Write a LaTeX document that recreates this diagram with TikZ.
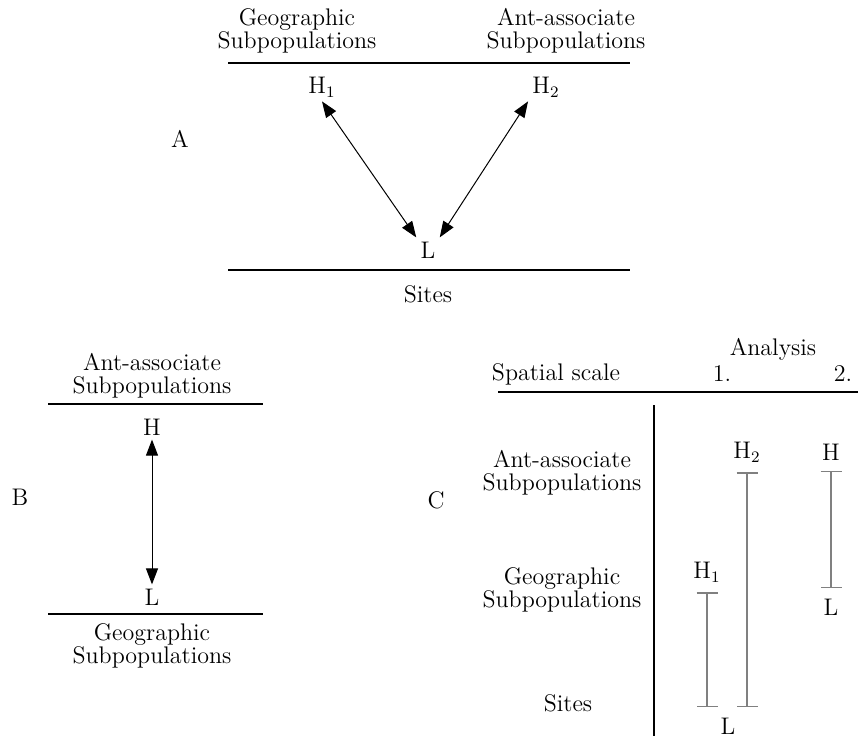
\documentclass[tikz,border=0pt]{standalone}
\usetikzlibrary{arrows.meta}
\begin{document}
\begin{tikzpicture}[x=0.5pt,y=-0.5pt,
    lbl/.style={font=\fontsize{12}{11.5}\selectfont, align=center, inner sep=2pt},
    rule/.style={line width=0.9pt},
    link/.style={{Triangle[length=8pt,width=6pt]}-{Triangle[length=8pt,width=6pt]}, line width=0.5pt},
    span/.style={{Bar[width=10.5pt]}-{Bar[width=10.5pt]}, draw=gray, line width=0.7pt, shorten <=3pt, shorten >=3pt}]
        \useasboundingbox (0,0) rectangle (858,736);

        % A
        \node [lbl] (geoA) at (297,31) {Geographic\\Subpopulations};
        \node [lbl] (antA) at (566,31) {Ant-associate\\Subpopulations};
        \draw [rule] (228,63) -- (630,63);
        \node [lbl] (h1A) at (322,87) {H$_1$};
        \node [lbl] (h2A) at (546,87) {H$_2$};
        \node [lbl] (lA) at (428,250) {L};
        \draw [rule] (228,270) -- (630,270);
        \node [lbl] (sitesA) at (428,294) {Sites};
        \node [lbl] (tagA) at (180,139) {A};

        \draw [link] (h1A.south) -- (lA.north west);
        \draw [link] (h2A.south west) -- (lA.north east);

        % B
        \node [lbl] (antB) at (152,376) {Ant-associate\\Subpopulations};
        \draw [rule] (48,404) -- (263,404);
        \node [lbl] (hB) at (152,427) {H};
        \node [lbl] (lB) at (152,597) {L};
        \draw [rule] (48,614) -- (263,614);
        \node [lbl] (geoB) at (152,646) {Geographic\\Subpopulations};
        \node [lbl] (tagB) at (20,497) {B};

        \draw [link] (hB) -- (lB);

        % C
        \node [lbl] (analysis) at (773,349) {Analysis};
        \node [lbl] (scale) at (556,374) {Spatial scale};
        \node [lbl] (one) at (722,374) {1.};
        \node [lbl] (two) at (843,374) {2.};
        \draw [rule] (498,392) -- (858,392);
        \draw [rule] (654,405) -- (654,736);
        \node [lbl] (antC) at (562,473) {Ant-associate\\Subpopulations};
        \node [lbl] (geoC) at (562,590) {Geographic\\Subpopulations};
        \node [lbl] (sitesC) at (568,703) {Sites};
        \node [lbl] (tagC) at (436,500) {C};

        \node [lbl] (h1C) at (707,572) {H$_1$};
        \node [lbl] (h2C) at (747,452) {H$_2$};
        \node [lbl] (lC) at (728,726) {L};
        \node [lbl] (hC) at (831,452) {H};
        \node [lbl] (lC2) at (831,607) {L};
        \coordinate (b1) at (707,713);
        \coordinate (b2) at (747,713);

        \draw [span] (h1C.south) -- (b1);
        \draw [span] (h2C.south) -- (b2);
        \draw [span] (hC.south) -- (lC2.north);
      \end{tikzpicture}
\end{document}
